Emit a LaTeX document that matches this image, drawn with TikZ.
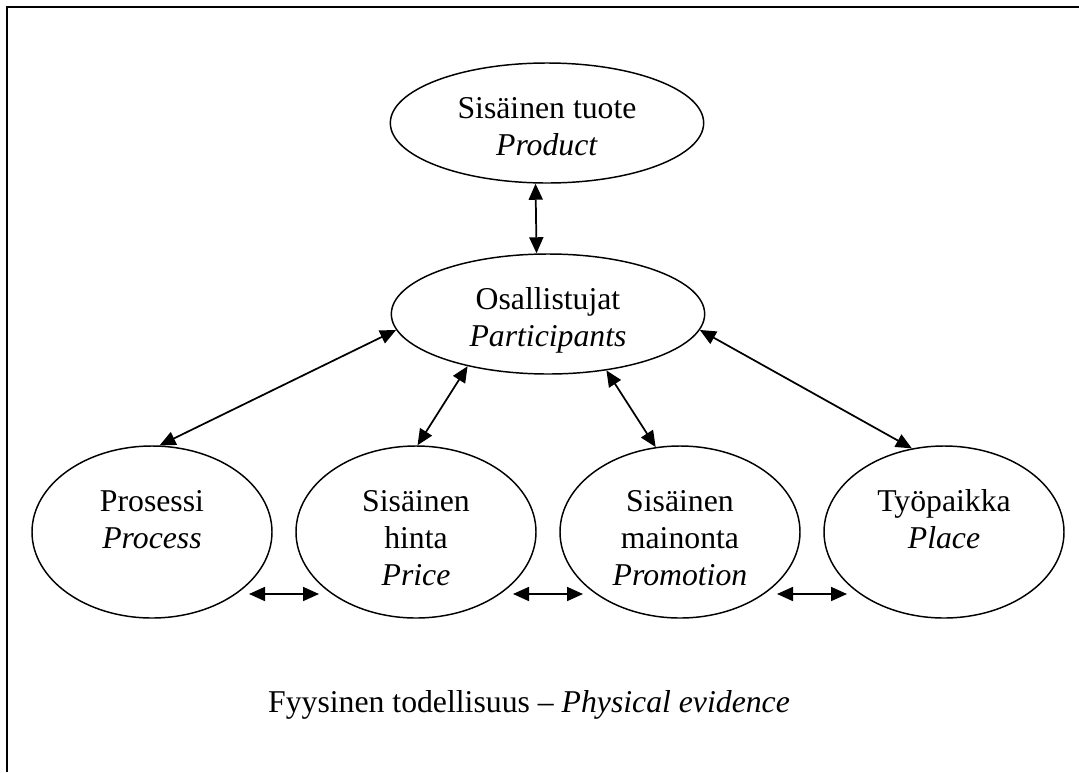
\documentclass[tikz,border=0pt]{standalone}
\usepackage{fontspec}
\setmainfont{Liberation Serif}
\usetikzlibrary{arrows.meta,shapes.geometric}

\begin{document}
\begin{tikzpicture}[>={Triangle[length=12pt,width=10.5pt]}, x=0.75pt, y=-0.75pt,
  every node/.style={font=\fontsize{23.8}{27.75}\selectfont, align=center},
  bubble/.style={draw, ellipse, line width=1.1pt, inner sep=0pt},
  bigoval/.style={bubble, minimum width=235pt, minimum height=90pt, text height=51pt, text depth=2pt},
  oval/.style={bubble, minimum width=180pt, minimum height=129pt, text height=80pt, text depth=0pt},
  link/.style={<->, line width=1.3pt}]
  \useasboundingbox (0,0) rectangle (1079,772);
  % frame
  \draw[line width=1.6pt] (7,772) -- (7,7) -- (1079,7);
  % ellipses
  \node[bigoval] (product) at (547,123) {Sisäinen tuote\\\textit{Product}};
  \node[bigoval] (part) at (548,314) {Osallistujat\\\textit{Participants}};
  \node[oval] (proc) at (152,532) {Prosessi\\\textit{Process}\\\mbox{}};
  \node[oval] (price) at (416,532) {Sisäinen\\hinta\\\textit{Price}};
  \node[oval] (promo) at (680,532) {Sisäinen\\mainonta\\\textit{Promotion}};
  \node[oval] (place) at (944,532) {Työpaikka\\\textit{Place}\\\mbox{}};
  \node (evidence) at (529,705) {Fyysinen todellisuus – \textit{Physical evidence}};
  % arrows to participants
  \draw[link] ([xshift=-8.6pt]product.south) -- ([xshift=-8.6pt]part.north);
  \draw[link] (part.186) -- (proc.85);
  \draw[link] (part.213) -- (price.89);
  \draw[link] (part.316) -- (promo.106);
  \draw[link] (part.354) -- (place.111);
  % arrows along the row
  \draw[link] ([shift={(97,62)}]proc.center) -- ([shift={(-97,62)}]price.center);
  \draw[link] ([shift={(97,62)}]price.center) -- ([shift={(-97,62)}]promo.center);
  \draw[link] ([shift={(97,62)}]promo.center) -- ([shift={(-97,62)}]place.center);
\end{tikzpicture}
\end{document}
